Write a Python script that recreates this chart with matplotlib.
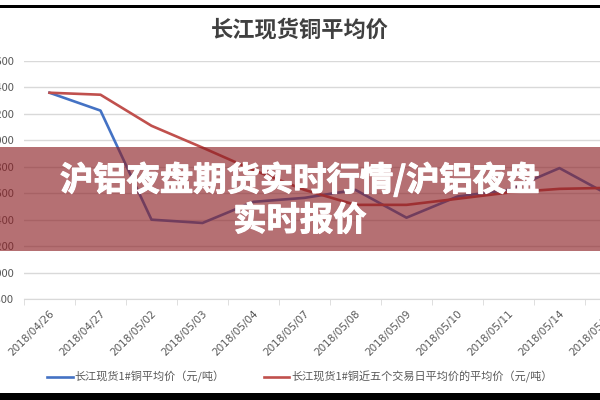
import numpy as np
import matplotlib
matplotlib.use("Agg")
import matplotlib.pyplot as plt
import matplotlib.patheffects as pe
from matplotlib.patches import Rectangle
from matplotlib.ticker import FuncFormatter, MultipleLocator

plt.rcParams['font.family'] = ['Noto Sans CJK SC', 'DejaVu Sans']

# Data (yuan / ton)
dates = ["2018/04/26", "2018/04/27", "2018/05/02", "2018/05/03", "2018/05/04",
         "2018/05/07", "2018/05/08", "2018/05/09", "2018/05/10", "2018/05/11",
         "2018/05/14", "2018/05/15"]
spot_avg = [51360, 51225, 50400, 50375, 50535, 50565, 50625, 50415, 50575,
            50625, 50790, 50580]
five_day_avg = [51360, 51345, 51110, 50945, 50775, 50625, 50512, 50512, 50558,
                50605, 50633, 50641]

title = "长江现货铜平均价"
label_spot = "长江现货1#铜平均价（元/吨）"
label_five = "长江现货1#铜近五个交易日平均价的平均价（元/吨）"
banner1 = "沪铝夜盘期货实时行情/沪铝夜盘"
banner2 = "实时报价"

W, H = 600, 400
fig = plt.figure(figsize=(6, 4), dpi=100)
fig.patch.set_facecolor("white")

# axes box in pixels: left 24, right 636 (runs off the image), top 61, bottom 299
ax = fig.add_axes([24 / W, 1 - 299 / H, 612 / W, 238 / H])
x = np.arange(len(dates))
ax.plot(x, spot_avg, color="#4472C4", lw=1.9, label=label_spot, zorder=3)
ax.plot(x, five_day_avg, color="#C0504D", lw=1.9, label=label_five, zorder=3)

ax.set_xlim(-0.5, len(dates) - 0.5)
ax.set_ylim(49800, 51600)
ax.yaxis.set_major_locator(MultipleLocator(200))
ax.yaxis.set_major_formatter(FuncFormatter(lambda v, p: "{:,.0f}".format(v)))
ax.grid(axis="y", color="#D9D9D9", lw=1.0)
ax.set_axisbelow(True)
for s in ["top", "right", "left"]:
    ax.spines[s].set_visible(False)
ax.spines["bottom"].set_color("#D9D9D9")
ax.tick_params(axis="y", length=0, pad=7, labelsize=8, labelcolor="#595959")

ax.set_xticks(x)
ax.set_xticklabels(dates, rotation=45, ha="right", rotation_mode="anchor",
                   fontsize=7.5, color="#595959", family="DejaVu Sans")
ax.tick_params(axis="x", length=0, pad=7)
ax.set_xticks(np.arange(len(dates) + 1) - 0.5, minor=True)
ax.tick_params(axis="x", which="minor", length=4, color="#D9D9D9")

fig.text(0.5, 1 - 30 / H, title, ha="center", va="center", fontsize=16,
         color="#404040", fontweight="bold")

leg = fig.legend(loc="center", bbox_to_anchor=(0.5, 1 - 377 / H), ncol=2,
                 frameon=False, fontsize=8, handlelength=2.3, handletextpad=0.2,
                 columnspacing=3.5)
for t in leg.get_texts():
    t.set_color("#595959")

# black borders top and bottom
fig.patches.append(Rectangle((0, 1 - 8 / H), 1, 3 / H, transform=fig.transFigure,
                             facecolor="black", edgecolor="none", zorder=10))
fig.patches.append(Rectangle((0, 0), 1, 7 / H, transform=fig.transFigure,
                             facecolor="black", edgecolor="none", zorder=10))

# red translucent banner with caption
fig.patches.append(Rectangle((0, 1 - 251 / H), 1, 104 / H, transform=fig.transFigure,
                             facecolor=(0.55, 0.12, 0.14), alpha=0.64,
                             edgecolor="none", zorder=10))
heavy = [pe.withStroke(linewidth=0.8, foreground="white")]
fig.text(0.5, 1 - 180 / H, banner1, ha="center", va="center", fontsize=24,
         color="white", fontweight="heavy", zorder=11, path_effects=heavy)
fig.text(0.5, 1 - 221 / H, banner2, ha="center", va="center", fontsize=24,
         color="white", fontweight="heavy", zorder=11, path_effects=heavy)

fig.savefig("out.png", dpi=100)
